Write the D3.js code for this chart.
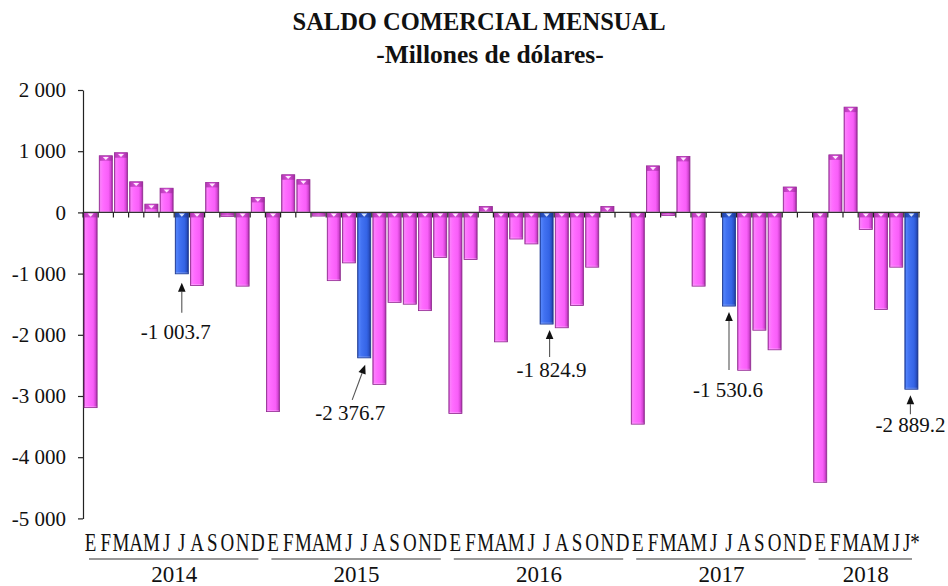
<!DOCTYPE html>
<html><head><meta charset="utf-8">
<script src="https://cdn.jsdelivr.net/npm/d3@7"></script>
<style>body{margin:0;background:#fff}svg{display:block}</style>
</head><body><svg id="c" width="948" height="586"></svg>
<script>
// ---------- data ----------
const years = ["2014", "2015", "2016", "2017", "2018"];
const monthLetters = ["E", "F", "M", "A", "M", "J", "J", "A", "S", "O", "N", "D"];
const v2014 = [-3190, 925, 975, 500, 135, 395, -1003.7, -1195, 490, -65, -1205, 245];
const v2015 = [-3255, 615, 535, -60, -1115, -825, -2376.7, -2810, -1470, -1500, -1605, -735];
const v2016 = [-3285, -770, 95, -2115, -435, -515, -1824.9, -1885, -1520, -895, 95, 0];
const v2017 = [-3460, 760, -50, 915, -1205, 0, -1530.6, -2580, -1925, -2245, 415, 0];
const v2018 = [-4410, 940, 1720, -280, -1585, -895, -2889.2];
const seriesByYear = [v2014, v2015, v2016, v2017, v2018];
const lastLabel = "J*";
const highlightMonthIndex = 6; // julio
const yTicks = [2000, 1000, 0, -1000, -2000, -3000, -4000, -5000];
const titleText = "SALDO COMERCIAL MENSUAL";
const subtitleText = "-Millones de dólares-";

// ---------- build rows ----------
const data = [];
years.forEach((yr, yi) => {
  seriesByYear[yi].forEach((v, m) => {
    const isLast = yi === years.length - 1 && m === seriesByYear[yi].length - 1;
    data.push({key: yr + "-" + m, year: yr, month: m,
      label: isLast ? lastLabel : monthLetters[m], value: v,
      highlight: m === highlightMonthIndex});
  });
});

// annotation layout (offsets relative to bar bottom / center)
const annLayout = {
  "2014": {tipDx: 0, tipDy: 9, tailDx: 0, tailDy: 39, txtDx: -6, txtDy: 65},
  "2015": {tipDx: 1, tipDy: 7, tailDx: -12, tailDy: 42, txtDx: -14, txtDy: 62},
  "2016": {tipDx: 3, tipDy: 6, tailDx: 3, tailDy: 33, txtDx: 5, txtDy: 53},
  "2017": {tipDx: 0, tipDy: 6, tailDx: 0, tailDy: 64, txtDx: -1, txtDy: 91},
  "2018": {tipDx: -1, tipDy: 6, tailDx: -1, tailDy: 25, txtDx: -1, txtDy: 43}
};

// ---------- setup ----------
const svg = d3.select("#c");
const locale = d3.formatLocale({decimal: ".", thousands: " ", grouping: [3], currency: ["", ""], minus: "-"});
const fmtTick = locale.format(",.0f");
const fmtAnn = locale.format(",.1f");
const serif = "'Liberation Serif','Times New Roman',serif";

const x = d3.scaleBand().domain(data.map(d => d.key)).range([83, 919])
  .paddingInner(0.14).paddingOuter(0.07);
const y = d3.scaleLinear().domain([-5000, 2000]).range([518.4, 90]);
const bw = x.bandwidth();
const step = x.step();
const gap = (step - bw) / 2;

// gradients
const defs = svg.append("defs");
function grad(id, stops) {
  const g = defs.append("linearGradient").attr("id", id).attr("x1", 0).attr("x2", 1).attr("y1", 0).attr("y2", 0);
  stops.forEach(s => g.append("stop").attr("offset", s[0]).attr("stop-color", s[1]));
}
grad("gPink", [[0, "#b436b4"], [0.1, "#fb80fb"], [0.3, "#ff6cff"], [0.7, "#f85ef8"], [0.86, "#d848d8"], [1, "#9c2a9c"]]);
grad("gBlue", [[0, "#1c40a8"], [0.1, "#5283fa"], [0.3, "#4272f2"], [0.7, "#3464e6"], [0.86, "#2a52c8"], [1, "#1a3690"]]);
grad("gPinkCap", [[0, "#a82ea8"], [0.5, "#d24ad2"], [1, "#9c2a9c"]]);
grad("gBlueCap", [[0, "#1a3a9a"], [0.5, "#2e58d0"], [1, "#1a3690"]]);

// ---------- title ----------
svg.append("text").attr("x", 479).attr("y", 30).attr("text-anchor", "middle")
  .style("font-family", serif).style("font-weight", "bold").style("font-size", "24.5px").attr("fill", "#111")
  .text(titleText);
svg.append("text").attr("x", 490).attr("y", 63).attr("text-anchor", "middle")
  .style("font-family", serif).style("font-weight", "bold").style("font-size", "25.5px").attr("fill", "#111")
  .text(subtitleText);

// ---------- y axis ----------
const yAxis = svg.append("g").attr("transform", "translate(83,0)")
  .call(d3.axisLeft(y).tickValues(yTicks).tickFormat(fmtTick).tickSize(5).tickSizeOuter(0));
yAxis.select(".domain").attr("stroke", "#222").attr("stroke-width", 1.2);
yAxis.selectAll(".tick line").attr("stroke", "#222").attr("stroke-width", 1.2);
yAxis.selectAll(".tick text").attr("x", -17).style("font-family", serif).style("font-size", "21px").attr("fill", "#111");

// ---------- bars ----------
const y0 = y(0);
const bars = svg.append("g");
data.forEach(d => {
  const y1 = y(d.value);
  const top = Math.min(y0, y1), h = Math.abs(y1 - y0);
  if (h < 0.5) return;
  const bx = x(d.key);
  const g = bars.append("g");
  g.append("rect").attr("x", bx).attr("y", top).attr("width", bw).attr("height", h)
    .attr("fill", d.highlight ? "url(#gBlue)" : "url(#gPink)")
    .attr("stroke", d.highlight ? "#1a3690" : "#8e2a8e").attr("stroke-width", 0.8);
  const ch = Math.min(5, h);
  g.append("rect").attr("x", bx).attr("y", top).attr("width", bw).attr("height", ch)
    .attr("fill", d.highlight ? "url(#gBlueCap)" : "url(#gPinkCap)").attr("opacity", 0.85);
  if (h > 4) {
    const cx = bx + bw / 2;
    g.append("path").attr("d", `M${cx - 3},${top + 1.2}L${cx + 3},${top + 1.2}L${cx},${top + 4.3}Z`)
      .attr("fill", d.highlight ? "#d6e4ff" : "#ffe8ff");
  }
  g.append("rect").attr("x", bx + 0.5).attr("y", top + h - 1.5).attr("width", bw - 1).attr("height", 1)
    .attr("fill", "#ffffff").attr("opacity", 0.25);
});

// ---------- zero line & ticks ----------
svg.append("line").attr("x1", 83).attr("x2", 920).attr("y1", y0).attr("y2", y0)
  .attr("stroke", "#333").attr("stroke-width", 1.2);
const bounds = data.map(d => x(d.key) - gap).concat([x(data[data.length - 1].key) + bw + gap]);
svg.append("g").selectAll("line").data(bounds).join("line")
  .attr("x1", d => d).attr("x2", d => d).attr("y1", y0).attr("y2", y0 + 5)
  .attr("stroke", "#222").attr("stroke-width", 1.2);

// ---------- month labels ----------
svg.append("g").selectAll("text").data(data).join("text")
  .attr("transform", d => `translate(${x(d.key) + bw / 2},551) scale(0.76,1)`)
  .attr("text-anchor", "middle").style("font-family", serif).style("font-size", "25px").attr("fill", "#111")
  .text(d => d.label);

// ---------- year groups ----------
years.forEach(yr => {
  const rows = data.filter(d => d.year === yr);
  const xs = x(rows[0].key) - gap;
  const xe = x(rows[rows.length - 1].key) + bw + gap;
  svg.append("line").attr("x1", xs + 6).attr("x2", xe - 7).attr("y1", 559).attr("y2", 559)
    .attr("stroke", "#333").attr("stroke-width", 1.2);
  svg.append("text").attr("x", (xs + xe) / 2).attr("y", 582).attr("text-anchor", "middle")
    .style("font-family", serif).style("font-size", "23px").attr("fill", "#111").text(yr);
});

// ---------- annotations ----------
const ann = svg.append("g");
data.filter(d => d.highlight).forEach(d => {
  const L = annLayout[d.year];
  const cx = x(d.key) + bw / 2, yb = y(d.value);
  const tip = [cx + L.tipDx, yb + L.tipDy], tail = [cx + L.tailDx, yb + L.tailDy];
  const ang = Math.atan2(tip[1] - tail[1], tip[0] - tail[0]);
  const hl = 9, hw = 3.8;
  const bxp = tip[0] - hl * Math.cos(ang), byp = tip[1] - hl * Math.sin(ang);
  ann.append("line").attr("x1", tail[0]).attr("y1", tail[1]).attr("x2", bxp).attr("y2", byp)
    .attr("stroke", "#555").attr("stroke-width", 1.1);
  ann.append("path").attr("d",
    `M${tip[0]},${tip[1]}L${bxp + hw * Math.sin(ang)},${byp - hw * Math.cos(ang)}L${bxp - hw * Math.sin(ang)},${byp + hw * Math.cos(ang)}Z`)
    .attr("fill", "#111");
  ann.append("text").attr("x", cx + L.txtDx).attr("y", yb + L.txtDy).attr("text-anchor", "middle")
    .style("font-family", serif).style("font-size", "21px").attr("fill", "#111").text(fmtAnn(d.value));
});
</script></body></html>
